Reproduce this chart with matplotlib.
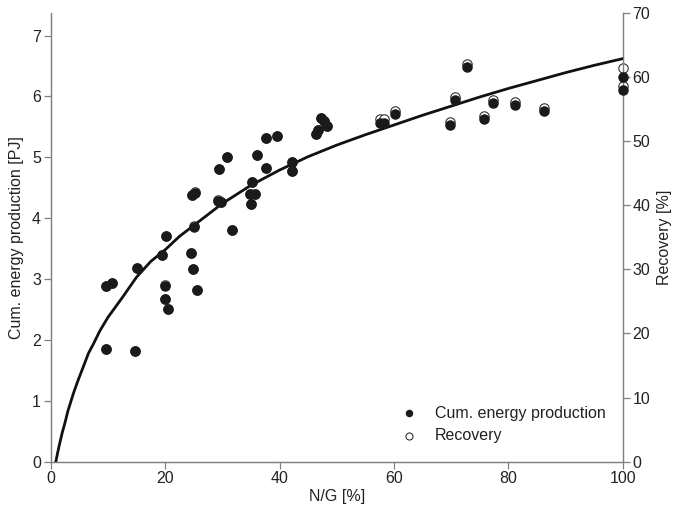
import matplotlib.pyplot as plt

# Datos
# N/G [%] de cada punto
ng = [9.7, 10.7, 15.1, 19.5, 20.2, 19.9, 19.9, 20.5, 24.6, 24.9, 25.6, 9.7,
      14.7, 25.1, 31.7, 24.7, 25.3, 29.2, 29.7, 29.4, 30.8, 36.0, 37.6,
      35.2, 34.8, 35.8, 35.0, 37.6, 39.5, 42.1, 42.2, 47.3, 47.7, 48.3,
      46.8, 46.3, 57.6, 58.3, 60.2, 69.8, 70.6, 72.7, 75.8, 77.4, 81.1,
      86.3, 100.0, 100.0]

# Produccion acumulada de energia [PJ]
energia = [2.88, 2.94, 3.18, 3.40, 3.71, 2.89, 2.67, 2.50, 3.42, 3.17, 2.82,
           1.85, 1.81, 3.86, 3.80, 4.38, 4.42, 4.29, 4.26, 4.81, 5.00, 5.04,
           4.82, 4.59, 4.40, 4.39, 4.23, 5.32, 5.35, 4.93, 4.78, 5.64, 5.59,
           5.52, 5.44, 5.38, 5.57, 5.57, 5.71, 5.53, 5.94, 6.49, 5.63, 5.89,
           5.86, 5.76, 6.32, 6.11]

# Recuperacion [%] (eje derecho)
recuperacion = [27.4, 27.9, 30.2, 32.3, 35.2, 27.5, 25.4, 23.8, 32.5, 30.1,
                26.8, 17.6, 17.2, 36.7, 36.1, 41.6, 42.0, 40.8, 40.5, 45.7,
                47.5, 47.9, 45.8, 43.6, 41.8, 41.7, 40.2, 50.5, 50.8, 46.8,
                45.4, 53.6, 53.1, 52.4, 51.7, 51.1, 53.4, 53.4, 54.7, 53.0,
                56.9, 62.1, 53.9, 56.4, 56.1, 55.2, 61.4, 58.6]

# Curva de ajuste
curva_x = [0.9, 1.2, 1.5, 2.0, 2.5, 3.0, 4.0, 4.8, 5.5, 6.6, 7.5, 8.6, 10,
           12.4, 15, 17.5, 20, 22.5, 25, 30, 35, 40, 45, 50, 55, 60, 65, 70,
           75, 80, 85, 90, 95, 100]
curva_y = [0.0, 0.14, 0.27, 0.47, 0.64, 0.83, 1.13, 1.34, 1.51, 1.78, 1.94,
           2.15, 2.37, 2.68, 3.03, 3.29, 3.48, 3.70, 3.88, 4.24, 4.54, 4.79,
           5.01, 5.20, 5.37, 5.53, 5.69, 5.84, 5.99, 6.13, 6.26, 6.39, 6.51,
           6.62]

plt.rcParams['font.family'] = ['Liberation Sans', 'DejaVu Sans']
plt.rcParams['font.size'] = 11.5

gris = '#808080'
texto = '#222222'

fig = plt.figure(figsize=(6.74, 5.15), dpi=100)
ax = fig.add_axes([0.0752, 0.1035, 0.8488, 0.8713])
ax2 = ax.twinx()

# Recovery primero (queda detras de los puntos negros)
ax2.scatter(ng, recuperacion, s=46, facecolor='white', edgecolor='#333333',
            linewidth=0.8, zorder=2, clip_on=False)
ax.plot(curva_x, curva_y, color='#111111', lw=2, zorder=3)
ax.scatter(ng, energia, s=57, color='#1a1a1a', lw=0, zorder=4,
           clip_on=False)

# El eje principal encima del secundario para ver los puntos negros
ax.set_zorder(ax2.get_zorder() + 1)
ax.patch.set_visible(False)

ax.set_xlim(0, 100)
ax.set_ylim(0, 7.37)
ax2.set_ylim(0, 70)
ax.set_xticks(range(0, 101, 20))
ax.set_yticks(range(0, 8))
ax2.set_yticks(range(0, 71, 10))

for a in (ax, ax2):
    a.spines['top'].set_visible(False)
    for lado in ('left', 'right', 'bottom'):
        a.spines[lado].set_color(gris)
        a.spines[lado].set_linewidth(0.9)
    a.tick_params(direction='out', length=5, width=0.9, color=gris,
                  labelcolor=texto, pad=2, labelsize=11.5)

ax.set_xlabel('N/G [%]', color=texto, labelpad=2)
ax.set_ylabel('Cum. energy production [PJ]', color=texto, labelpad=6)
ax2.set_ylabel('Recovery [%]', color=texto, labelpad=5)

# Leyenda sin marco abajo a la derecha
h1 = ax.scatter([], [], s=52, color='#1a1a1a', lw=0)
h2 = ax.scatter([], [], s=46, facecolor='white', edgecolor='#333333',
                linewidth=0.8)
ax.legend([h1, h2], ['Cum. energy production', 'Recovery'],
          loc='lower right', bbox_to_anchor=(0.995, 0.01), frameon=False,
          markerscale=0.75, handletextpad=0.6, labelspacing=0.45,
          fontsize=11.5, labelcolor=texto)

fig.savefig('out.png', dpi=100)
